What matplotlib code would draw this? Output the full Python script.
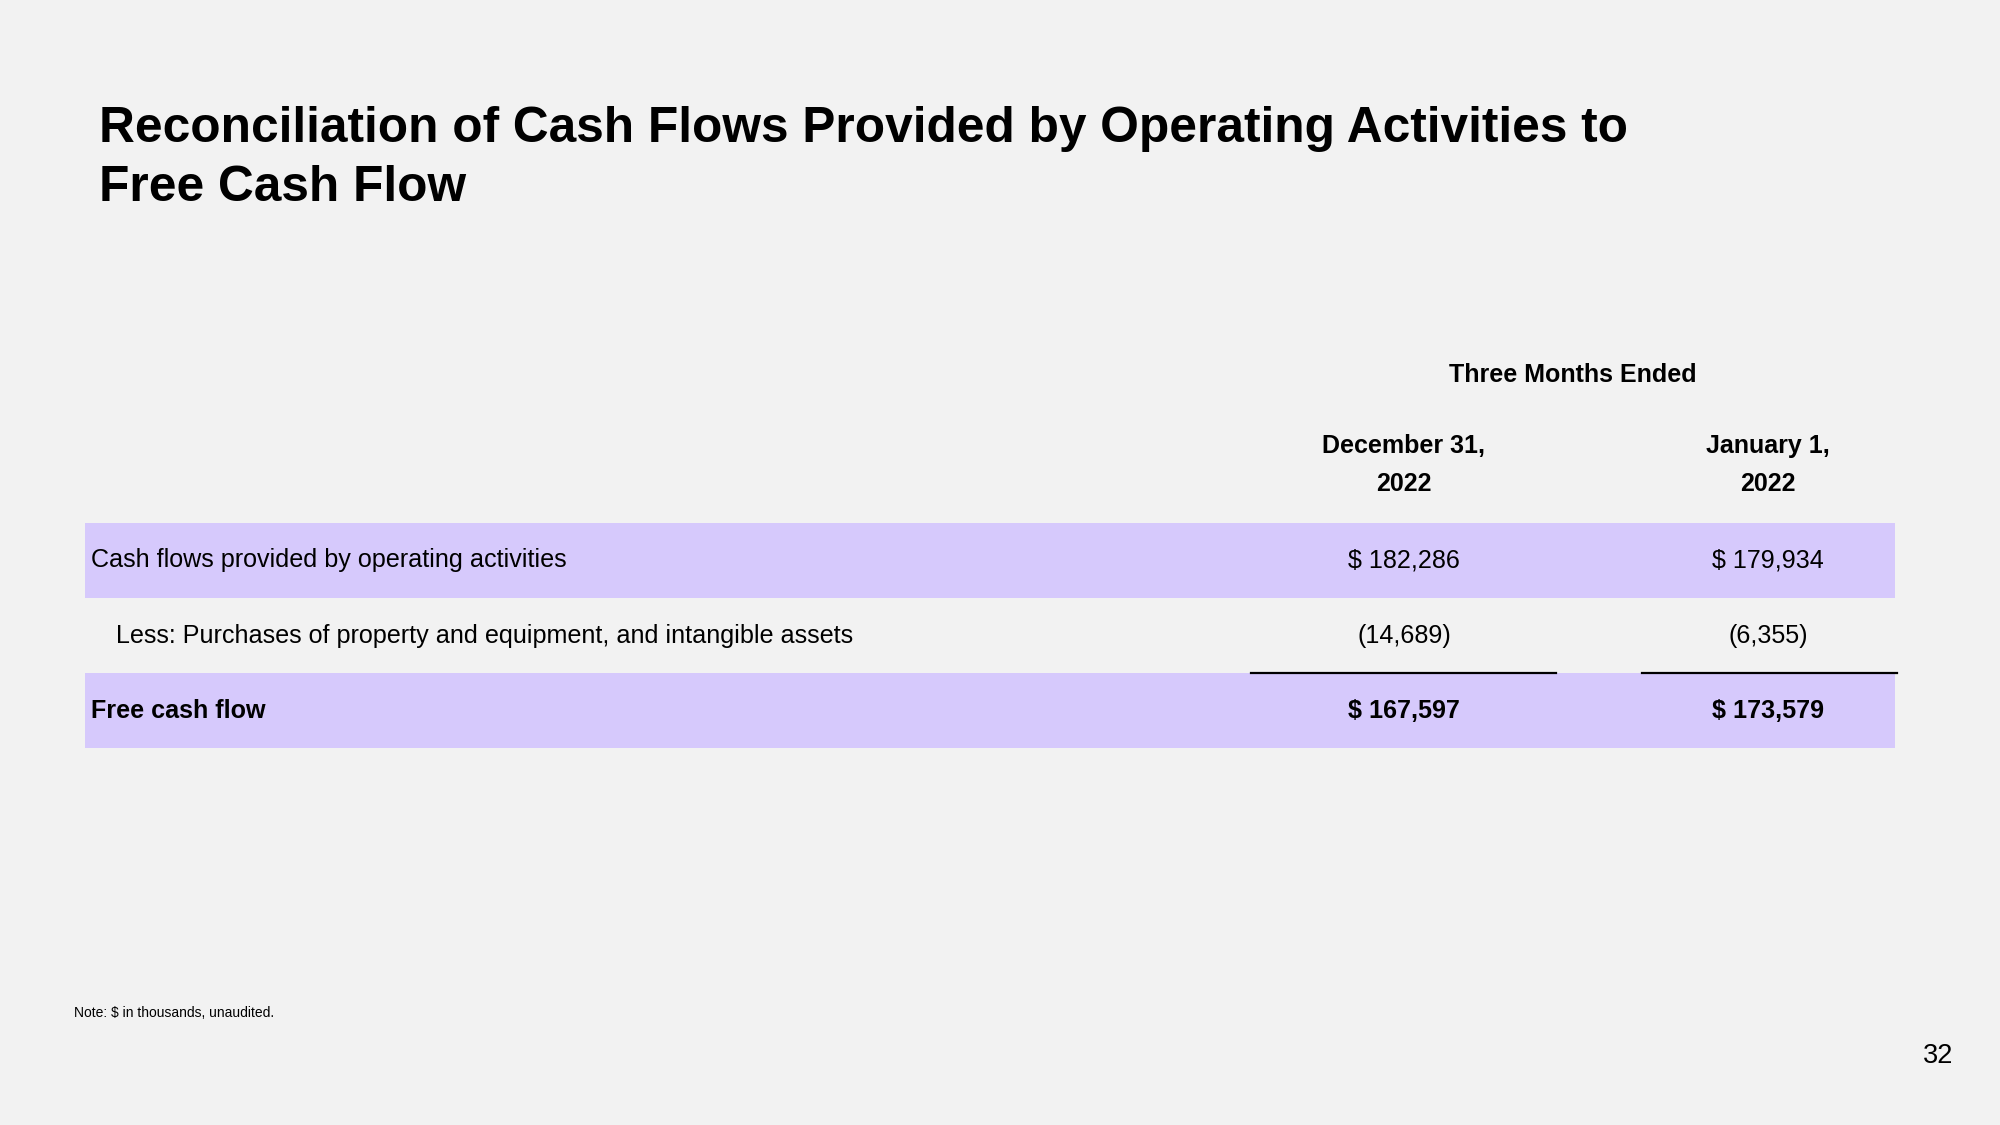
import matplotlib
matplotlib.use("Agg")
import matplotlib.pyplot as plt

plt.rcParams['font.family'] = ['Liberation Sans', 'DejaVu Sans']

# slide content
TITLE = "Reconciliation of Cash Flows Provided by Operating Activities to\nFree Cash Flow"
GROUP = "Three Months Ended"
COLS = ["December 31,\n2022", "January 1,\n2022"]
ROWS = ["Cash flows provided by operating activities",
        "Less: Purchases of property and equipment, and intangible assets",
        "Free cash flow"]
VAL_DEC = ["$ 182,286", "(14,689)", "$ 167,597"]
VAL_JAN = ["$ 179,934", "(6,355)", "$ 173,579"]
NOTE = "Note: $ in thousands, unaudited."
PAGE = "32"

BG = "#f2f2f2"
BAND = "#d6c9fc"

fig = plt.figure(figsize=(20, 11.25), dpi=100, facecolor=BG)
ax = fig.add_axes([0, 0, 1, 1])
ax.set_xlim(0, 2000); ax.set_ylim(1125, 0); ax.axis('off')
ax.set_facecolor(BG)

ax.text(99, 106, TITLE, fontsize=35.7, fontweight='bold', va='top', ha='left',
        linespacing=1.36, color='black')

col_x = [1404, 1768]
ax.text(1573, 375, GROUP, fontsize=18, fontweight='bold', ha='center', va='center')
for x, c in zip(col_x, COLS):
    ax.text(x, 465, c, fontsize=18, fontweight='bold', ha='center', va='center', linespacing=1.75)

top, rh = 523, 75
bands = [0, 2]
for i, (lab, a, b) in enumerate(zip(ROWS, VAL_DEC, VAL_JAN)):
    y0 = top + i * rh
    yc = y0 + rh / 2
    if i in bands:
        ax.axhspan(y0, y0 + rh, xmin=85 / 2000, xmax=1895 / 2000, color=BAND, lw=0, zorder=0)
    bold = 'bold' if i == len(ROWS) - 1 else 'normal'
    lx = 116 if i == 1 else 91
    ax.text(lx, yc, lab, fontsize=18.1, fontweight=bold, ha='left', va='center')
    for x, v in zip(col_x, (a, b)):
        ax.text(x, yc, v, fontsize=18.1, fontweight=bold, ha='center', va='center')

# subtotal rules
ax.plot([1251, 1556], [top + 2 * rh, top + 2 * rh], color='black', lw=1.6, zorder=3)
ax.plot([1642, 1897], [top + 2 * rh, top + 2 * rh], color='black', lw=1.6, zorder=3)

ax.text(74, 1013, NOTE, fontsize=10, ha='left', va='center')
ax.text(1938, 1056, PAGE, fontsize=19.5, ha='center', va='center')

fig.savefig("out.png", dpi=100, facecolor=BG)
